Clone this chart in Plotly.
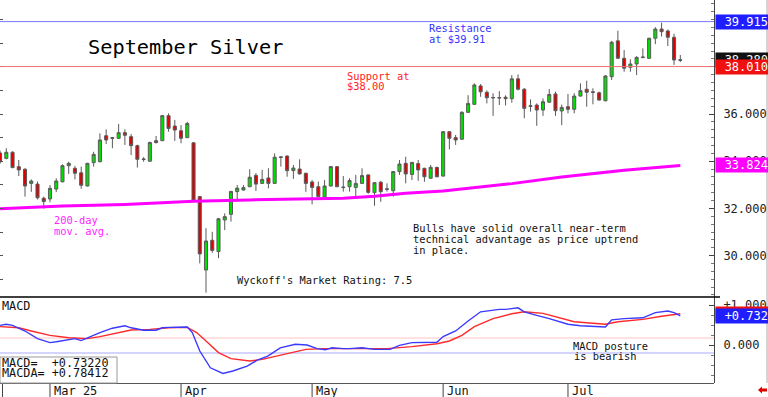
import plotly.graph_objects as go

# ---------------- data ----------------
bar_idx = list(range(110))
opens = [34.35, 34.12, 34.38, 33.77, 33.66, 33.06, 33.03, 32.43, 32.40, 32.82,
         33.13, 33.81, 33.70, 33.51, 32.95, 33.94, 33.98, 35.08, 35.00, 34.97,
         35.21, 35.04, 34.66, 34.07, 34.00, 34.87, 34.87, 35.93, 35.49, 35.29,
         35.00, 34.78, 32.50, 29.39, 30.65, 30.17, 31.51, 31.75, 32.71, 32.78,
         32.92, 33.40, 33.06, 33.29, 33.06, 34.16, 34.22, 33.60, 33.67, 33.49,
         33.12, 32.92, 32.43, 32.95, 33.77, 32.88, 32.92, 32.89, 33.06, 33.42,
         32.67, 33.11, 32.83, 32.75, 33.56, 33.91, 33.44, 33.90, 33.70, 33.28,
         33.74, 33.37, 35.25, 35.00, 34.93, 36.07, 36.41, 37.19, 36.92, 36.68,
         36.70, 36.71, 36.65, 37.49, 37.05, 36.32, 36.38, 36.17, 36.50, 36.85,
         36.13, 36.31, 36.20, 36.76, 37.05, 36.94, 36.90, 36.56, 37.58, 39.10,
         38.36, 37.98, 38.12, 38.39, 38.36, 39.21, 39.60, 39.52, 39.25, 38.30]
highs = [34.45, 34.55, 34.42, 34.05, 33.70, 33.23, 33.14, 32.50, 32.99, 33.28,
         33.87, 33.98, 33.80, 33.77, 33.93, 34.40, 35.18, 35.35, 35.02, 35.58,
         35.35, 35.15, 34.70, 34.17, 34.83, 35.07, 35.96, 36.03, 35.75, 35.53,
         35.67, 34.80, 32.52, 31.16, 31.01, 31.60, 31.79, 32.74, 32.99, 32.99,
         33.66, 33.50, 33.63, 33.70, 34.33, 34.22, 34.24, 33.84, 34.08, 33.51,
         33.20, 33.14, 33.20, 33.80, 33.79, 33.37, 33.28, 33.42, 33.70, 33.44,
         33.11, 33.17, 33.06, 33.58, 34.05, 34.19, 33.97, 34.05, 33.72, 33.84,
         33.76, 35.27, 35.27, 35.11, 36.12, 36.80, 37.30, 37.27, 37.00, 36.88,
         36.97, 36.79, 37.65, 37.68, 37.10, 36.62, 36.45, 36.66, 37.06, 36.95,
         36.40, 36.85, 36.88, 37.30, 37.41, 37.09, 36.95, 37.65, 39.10, 39.53,
         38.71, 38.32, 38.45, 38.78, 39.23, 39.68, 39.87, 39.58, 39.40, 38.50]
lows = [33.90, 34.08, 33.70, 33.37, 32.50, 32.70, 32.38, 31.99, 32.26, 32.69,
        33.10, 33.46, 33.23, 32.83, 32.93, 33.77, 33.95, 34.73, 34.55, 34.95,
        34.69, 34.26, 33.73, 33.98, 33.98, 34.75, 34.85, 35.25, 34.86, 34.76,
        34.98, 32.30, 29.67, 28.43, 30.12, 29.89, 31.08, 31.44, 32.33, 32.75,
        32.90, 32.74, 33.04, 32.85, 33.04, 33.77, 33.34, 33.25, 33.44, 32.70,
        32.17, 32.48, 32.41, 32.93, 32.90, 32.71, 32.71, 32.50, 33.04, 32.62,
        32.11, 32.28, 32.71, 32.50, 33.42, 33.06, 33.20, 33.17, 33.13, 33.26,
        33.32, 33.35, 34.50, 34.69, 34.91, 36.05, 36.39, 36.73, 36.45, 35.92,
        36.38, 36.36, 36.48, 37.00, 35.82, 36.10, 35.50, 35.92, 36.48, 35.92,
        35.53, 36.03, 36.03, 36.74, 36.31, 36.41, 36.57, 36.54, 37.44, 38.34,
        37.79, 37.79, 37.65, 38.37, 38.34, 38.96, 39.28, 38.88, 38.08, 38.20]
closes = [33.97, 34.38, 33.73, 33.63, 32.95, 33.16, 32.45, 32.29, 32.85, 33.16,
          33.81, 33.91, 33.49, 32.98, 33.91, 34.29, 34.90, 34.90, 34.97, 35.21,
          35.10, 34.66, 34.08, 34.09, 34.79, 34.79, 35.93, 35.39, 35.32, 34.97,
          35.60, 32.32, 30.07, 30.62, 30.22, 31.56, 31.65, 32.72, 32.86, 32.88,
          33.32, 33.03, 33.23, 33.06, 34.17, 34.18, 33.60, 33.71, 33.46, 33.06,
          32.89, 32.50, 32.95, 33.77, 32.92, 32.90, 33.18, 33.06, 33.39, 32.68,
          33.09, 32.71, 32.81, 33.56, 33.88, 33.46, 33.95, 33.63, 33.34, 33.74,
          33.34, 35.25, 34.97, 34.90, 36.07, 36.45, 37.23, 36.94, 36.69, 36.70,
          36.68, 36.65, 37.49, 37.05, 36.24, 36.35, 36.17, 36.52, 36.83, 36.14,
          36.28, 36.20, 36.76, 36.99, 36.92, 36.92, 36.59, 37.61, 39.04, 38.36,
          37.94, 38.12, 38.40, 38.41, 39.21, 39.60, 39.49, 39.25, 38.29, 38.28]

ma_idx = [0, 10, 20, 28, 31, 40, 50, 55, 60, 65, 71, 77, 82, 90, 100, 109]
ma_val = [31.99, 32.10, 32.17, 32.26, 32.30, 32.36, 32.40, 32.43, 32.52, 32.64,
          32.74, 32.92, 33.05, 33.33, 33.62, 33.82]

macd_idx = [0, 1, 2, 4, 6, 8, 9, 11, 12, 13, 14, 16, 18, 20, 21, 23, 25, 26, 27,
            30, 30.8, 32, 33.7, 35.7, 37.3, 39.6, 41.2, 42.9, 44.9, 47.3, 49.2,
            50.8, 52.1, 53.2, 55, 56, 58, 60, 62.5, 64, 66, 70, 71, 73, 75, 77,
            80, 81, 83, 84, 86, 88, 91, 93, 97, 98, 100, 103, 105, 107, 108, 109]
macd_val = [0.49, 0.52, 0.49, 0.35, 0.16, 0.06, 0.08, 0.14, 0.16, 0.11, 0.18,
            0.31, 0.42, 0.48, 0.43, 0.37, 0.37, 0.43, 0.44, 0.45, 0.31, -0.15,
            -0.57, -0.71, -0.65, -0.53, -0.38, -0.28, -0.07, 0.02, 0.00, -0.09,
            -0.12, -0.07, -0.09, -0.09, -0.07, -0.11, -0.11, -0.01, 0.06, 0.07,
            0.21, 0.35, 0.60, 0.83, 0.89, 0.89, 0.93, 0.83, 0.74, 0.66, 0.52,
            0.48, 0.45, 0.63, 0.66, 0.68, 0.81, 0.85, 0.81, 0.73]
macda_idx = [0, 3, 5, 8, 11, 14, 16, 19, 21, 24, 27, 30, 31.5, 33, 35, 37, 40,
             42, 44, 47, 49, 52, 55, 58, 62, 66, 70, 72, 74, 76, 79, 82, 84, 87,
             89, 92, 97, 99, 103, 106, 109]
macda_val = [0.46, 0.43, 0.35, 0.24, 0.18, 0.16, 0.21, 0.31, 0.375, 0.39, 0.43,
             0.44, 0.31, 0.10, -0.19, -0.34, -0.40, -0.36, -0.29, -0.18, -0.11,
             -0.09, -0.09, -0.08, -0.09, -0.04, 0.03, 0.10, 0.24, 0.46, 0.66,
             0.78, 0.83, 0.79, 0.70, 0.58, 0.52, 0.58, 0.64, 0.72, 0.78]

month_labels = ["Mar 25", "Apr", "May", "Jun", "Jul"]
month_start_idx = [8, 29, 50, 71, 91]

price_ticks = [30, 32, 34, 36, 38]
resistance = 39.915
support = 38.010
last_close = 38.280
ma_last = 33.824
macd_last = 0.73220
macda_last = 0.78412

# ---------------- geometry helpers ----------------
PW, PH = 714.0, 383.0
MONO = "DejaVu Sans Mono"


def px(x):
    return x / PW


def py(y):
    return 1 - y / PH


fig = go.Figure()

fig.add_trace(go.Scatter(x=ma_idx, y=ma_val, mode="lines",
                         line=dict(color="#ff00ff", width=3),
                         xaxis="x", yaxis="y", hoverinfo="skip"))
fig.add_trace(go.Candlestick(
    x=bar_idx, open=opens, high=highs, low=lows, close=closes,
    increasing=dict(fillcolor="#00e000", line=dict(color="#5a5a5a", width=1)),
    decreasing=dict(fillcolor="#e00000", line=dict(color="#5a5a5a", width=1)),
    whiskerwidth=0, xaxis="x", yaxis="y", hoverinfo="skip"))
fig.add_trace(go.Scatter(x=macda_idx, y=macda_val, mode="lines",
                         line=dict(color="#ff2a2a", width=1.4),
                         xaxis="x", yaxis="y2", hoverinfo="skip"))
fig.add_trace(go.Scatter(x=macd_idx, y=macd_val, mode="lines",
                         line=dict(color="#3a3aff", width=1.4),
                         xaxis="x", yaxis="y2", hoverinfo="skip"))
# invisible trace for left-side price ticks
fig.add_trace(go.Scatter(x=[0], y=[36], mode="markers", marker=dict(opacity=0),
                         xaxis="x", yaxis="y3", hoverinfo="skip"))

shapes = []
shapes.append(dict(type="line", xref="paper", yref="y", x0=0, x1=1, y0=resistance, y1=resistance,
                   line=dict(color="#7878ff", width=1)))
shapes.append(dict(type="line", xref="paper", yref="y", x0=0, x1=1, y0=support, y1=support,
                   line=dict(color="#f07070", width=1)))
shapes.append(dict(type="line", xref="paper", yref="y2", x0=0, x1=1, y0=0.175, y1=0.175,
                   line=dict(color="#ffc4c4", width=1), layer="below"))
shapes.append(dict(type="line", xref="paper", yref="y2", x0=0, x1=1, y0=-0.2, y1=-0.2,
                   line=dict(color="#d4d4ff", width=2), layer="below"))
shapes.append(dict(type="line", xref="paper", yref="paper", x0=0, x1=px(720), y0=py(297), y1=py(297),
                   line=dict(color="#000000", width=1.5)))
shapes.append(dict(type="line", xref="paper", yref="paper", x0=0, x1=px(714), y0=py(383.5), y1=py(383.5),
                   line=dict(color="#555555", width=1)))
shapes.append(dict(type="line", xref="paper", yref="paper", x0=px(767), x1=px(767), y0=py(0), y1=py(383),
                   line=dict(color="#aaaaaa", width=1)))
shapes.append(dict(type="rect", xref="paper", yref="paper", x0=px(0), x1=px(117), y0=py(383), y1=py(357),
                   line=dict(color="#999999", width=1), fillcolor="white", layer="above"))
for m in month_start_idx:
    shapes.append(dict(type="line", xref="x", yref="paper", x0=m, x1=m, y0=py(384), y1=py(397),
                       line=dict(color="#444444", width=1)))
shapes.append(dict(type="line", xref="paper", yref="paper", x0=px(2.5), x1=px(2.5), y0=py(384), y1=py(397),
                   line=dict(color="#444444", width=1)))
pts = [(758, 390), (762, 386.5), (762, 388.5), (767, 388.5), (767, 391.5), (762, 391.5), (762, 393.5)]
path = "M " + " L ".join(f"{px(a):.5f},{py(b):.5f}" for a, b in pts) + " Z"
shapes.append(dict(type="path", xref="paper", yref="paper", path=path,
                   fillcolor="#e00000", line=dict(color="#e00000", width=0)))

ann = []


def text(x, y, s, color="#111111", size=10.4, xanchor="left"):
    ann.append(dict(xref="paper", yref="paper", x=px(x), y=py(y), text=s, showarrow=False,
                    xanchor=xanchor, yanchor="middle", font=dict(family=MONO, size=size, color=color),
                    borderpad=0))


text(87, 47, "September Silver", "#000000", 20.3)
text(428, 28, "Resistance", "#3434ff")
text(428, 38.5, "at $39.91", "#3434ff")
text(346, 76, "Support at", "#ff2020")
text(346, 86, "$38.00", "#ff2020")
text(53, 220, "200-day", "#ff22ff")
text(53, 231, "mov. avg.", "#ff22ff")
text(412, 228, "Bulls have solid overall near-term")
text(412, 239, "technical advantage as price uptrend")
text(412, 249.5, "in place.")
text(236, 280, "Wyckoff's Market Rating: 7.5")
text(1, 305.5, "MACD", "#111111", 11.8)
text(572, 346, "MACD posture")
text(573, 356, "is bearish")
text(1, 362.5, f"MACD=  {macd_last:+.5f}", "#111111", 11.8)
text(1, 372.5, f"MACDA= {macda_last:+.5f}", "#111111", 11.8)

for lab, m in zip(month_labels, month_start_idx):
    ann.append(dict(xref="x", yref="paper", x=m, y=py(390.5), text=lab, showarrow=False,
                    xanchor="left", xshift=2, yanchor="middle",
                    font=dict(family=MONO, size=12, color="#111111")))


def valbox(yref, v, s, bg):
    ann.append(dict(xref="paper", yref=yref, x=1, xshift=1, y=v, text=s, showarrow=False,
                    xanchor="left", yanchor="middle", width=52, height=14, align="right",
                    bgcolor=bg, borderpad=0, font=dict(family=MONO, size=12, color="white")))


valbox("y", resistance, f"{resistance:.3f}", "#1e1eff")
valbox("y", last_close, f"{last_close:.3f}", "#101010")
valbox("y", support, f"{support:.3f}", "#f01010")
valbox("y", ma_last, f"{ma_last:.3f}", "#ff00ff")
valbox("y2", macda_last, f"{macda_last:+.3f}", "#f01010")
valbox("y2", macd_last, f"{macd_last:+.3f}", "#1e1eff")

axis_font = dict(family=MONO, size=12, color="#222222")
fig.update_layout(
    width=768, height=397,
    margin=dict(l=0, r=54, t=0, b=14, autoexpand=False),
    paper_bgcolor="white", plot_bgcolor="white", showlegend=False,
    xaxis=dict(range=[-0.01, 114.4], showgrid=False, zeroline=False, showticklabels=False,
               ticks="", rangeslider=dict(visible=False), anchor="y2", showline=False),
    yaxis=dict(domain=[1 - 297 / PH, 1], range=[28.246, 40.831], side="right", anchor="x",
               showgrid=False, zeroline=False, showline=True, linecolor="#444444", linewidth=1,
               ticks="inside", ticklen=5, tickcolor="#444444", tickvals=price_ticks,
               tickformat=".3f", tickfont=axis_font, ticklabelstandoff=6,
               minor=dict(dtick=1 / 3, tick0=30, ticks="inside", ticklen=3, tickcolor="#777777")),
    yaxis3=dict(matches="y", overlaying="y", side="left", anchor="x", showgrid=False,
                zeroline=False, showticklabels=False, ticks="inside", ticklen=3,
                tickcolor="#555555", dtick=1, showline=False),
    yaxis2=dict(domain=[0, 1 - 297 / PH], range=[-0.95, 1.2], side="right", anchor="x",
                showgrid=False, zeroline=False, showline=True, linecolor="#444444", linewidth=1,
                ticks="inside", ticklen=5, tickcolor="#444444", tickvals=[0, 1],
                ticktext=["0.000", "+1.000"], tickfont=axis_font, ticklabelstandoff=6,
                minor=dict(dtick=0.25, ticks="inside", ticklen=3, tickcolor="#777777")),
    shapes=shapes, annotations=ann,
)

fig.write_html("out.html", config={"displayModeBar": False, "staticPlot": True},
               post_script="document.body.style.margin='0px';document.body.style.overflow='hidden';")
